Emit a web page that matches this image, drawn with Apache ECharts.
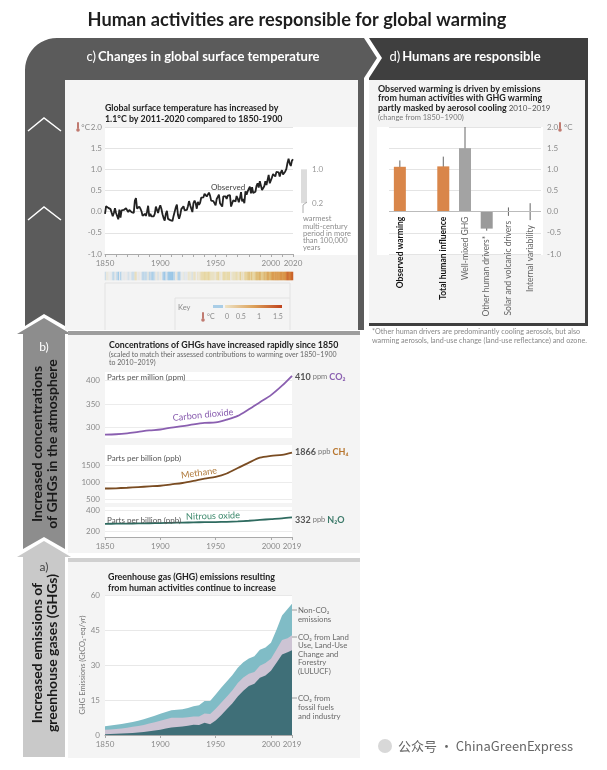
<!DOCTYPE html>
<html><head><meta charset="utf-8">
<script src="https://cdn.jsdelivr.net/npm/echarts@6/dist/echarts.min.js"></script>
<style>html,body{margin:0;padding:0;background:#fff}#c{width:607px;height:770px}</style>
</head><body><div id="c"></div>
<script>
// ---------- DATA ----------
const tempStart = 1850;
const tempValues = [
 -0.05,0.13,0.13,0.09,0.07,0.06,0.04,-0.11,-0.03,0.08,
 -0.03,-0.07,-0.18,0.05,-0.14,0.03,0.06,0.04,0.08,0.08,
 0.04,-0.01,0.04,0.06,-0.01,-0.05,-0.03,0.26,0.32,0.07,
 0.05,0.12,0.07,0.01,-0.10,-0.10,-0.05,-0.10,0.00,0.14,
 -0.11,-0.05,-0.11,-0.15,-0.11,-0.05,0.12,0.14,-0.03,0.08,
 0.15,0.07,-0.06,-0.15,-0.21,-0.05,0.02,-0.17,-0.19,-0.20,
 -0.19,-0.22,-0.10,-0.09,0.10,0.17,-0.08,-0.17,-0.08,0.06,
 0.06,0.13,0.03,0.05,0.04,0.13,0.25,0.15,0.15,-0.01,
 0.20,0.26,0.20,0.07,0.23,0.16,0.21,0.33,0.36,0.34,
 0.42,0.40,0.36,0.38,0.45,0.38,0.26,0.27,0.25,0.24,
 0.15,0.30,0.35,0.40,0.20,0.18,0.12,0.36,0.40,0.36,
 0.30,0.38,0.37,0.39,0.12,0.20,0.27,0.29,0.24,0.37,
 0.31,0.22,0.32,0.46,0.24,0.30,0.20,0.48,0.40,0.48,
 0.54,0.59,0.43,0.58,0.44,0.41,0.47,0.61,0.67,0.57,
 0.72,0.68,0.51,0.53,0.60,0.72,0.63,0.75,0.87,0.67,
 0.68,0.81,0.89,0.89,0.83,0.94,0.90,0.93,0.83,0.93,
 0.98,0.88,0.92,0.95,1.01,1.15,1.25,1.14,1.08,1.20,1.24];
const tempTickYears = [1850,1900,1950,2000,2020];
const tempMinorTicks = [1850,1860,1870,1880,1890,1900,1910,1920,1930,1940,1950,1960,1970,1980,1990,2000,2010,2020];
const warmestRange = [0.2, 1.0];

const dCats  = ['Observed warming','','Total human influence','Well-mixed GHG','Other human drivers*','Solar and volcanic drivers','Internal variability'];
const dValues = [1.06, null, 1.07, 1.50, -0.40, 0.00, 0.00];
const dLow    = [0.88, null, 0.80, 1.00, -0.45, -0.10, -0.20];
const dHigh   = [1.21, null, 1.30, 2.00, 0.00, 0.10, 0.20];

const ghgYears  = [1850,1860,1870,1880,1890,1900,1910,1920,1930,1940,1950,1960,1970,1980,1990,2000,2010,2019];
const co2Values = [285,286,288,291,294,296,300,303,307,310,311,317,325,339,354,369,389,410];
const ch4Values = [808,815,830,850,870,890,930,970,1030,1100,1150,1250,1410,1570,1715,1770,1800,1866];
const n2oValues = [272,274,275,276,278,280,282,284,286,288,289,291,295,301,309,316,323,332];
const ghgTickYears = [1850,1900,1950,2000,2019];

const emisYears = [1850,1855,1860,1865,1870,1875,1880,1885,1890,1895,1900,1905,1910,1915,1920,1925,1930,1935,1940,1945,1950,1955,1960,1965,1970,1975,1980,1985,1990,1995,2000,2005,2010,2015,2019];
const fossilValues = [0.3,0.4,0.5,0.6,0.7,0.9,1.1,1.3,1.6,1.9,2.3,2.8,3.2,3.4,3.6,4.0,4.4,4.3,5.2,4.6,6.2,8.5,11.0,13.5,16.5,19.0,21.0,22.0,24.5,25.5,27.5,31.0,34.5,35.5,36.3];
const lulucfValues = [1.9,2.0,2.1,2.2,2.4,2.6,2.8,3.0,3.3,3.6,3.8,4.0,4.2,4.0,3.8,3.6,3.5,3.6,4.0,4.4,5.0,5.3,5.4,5.6,5.8,5.6,5.2,5.0,5.2,5.4,5.2,5.6,6.2,6.0,6.4];
const nonco2Values = [1.6,1.7,1.8,1.9,2.0,2.1,2.2,2.4,2.6,2.8,3.0,3.1,3.2,3.4,3.6,4.0,4.4,4.8,5.4,5.6,6.2,6.4,6.5,6.5,6.5,6.6,6.6,6.7,6.8,6.6,6.8,8.5,10.5,12.5,13.5];

// cumulative layers for the stacked emissions (built from the arrays above)
const layerFossil = emisYears.map((y,i)=>[y, fossilValues[i]]);
const layerLulucf = emisYears.map((y,i)=>[y, +(fossilValues[i]+lulucfValues[i]).toFixed(2)]);
const layerTotal  = emisYears.map((y,i)=>[y, +(fossilValues[i]+lulucfValues[i]+nonco2Values[i]).toFixed(2)]);

// ---------- STYLE ----------
const F = "Lato, 'Noto Sans', 'DejaVu Sans', sans-serif";
const GRAY = '#8a8a8a';
const dColors = ['#d9864a', null, '#d9864a', '#a3a3a3', '#9a9a9a', '#999', '#999'];

function T(x, y, text, o) {
  o = o || {};
  const st = {text:text, fill:o.color||'#333', fontSize:o.size||8, fontWeight:o.bold?'bold':'normal',
      fontFamily:o.family||F, align:o.align||'left', verticalAlign:o.va||'middle'};
  if (o.rich) st.rich = o.rich;
  return {type:'text', x:x, y:y, rotation:o.rot||0, z:50, silent:true, style:st};
}
function R(x, y, w, h, fill, z) { return {type:'rect', z:(z==null?-10:z), silent:true, shape:{x:x,y:y,width:w,height:h}, style:{fill:fill}}; }
function PG(points, fill, z) { return {type:'polygon', z:(z==null?-12:z), silent:true, shape:{points:points}, style:{fill:fill}}; }
function L(x1,y1,x2,y2,c,w,z) { return {type:'line', z:(z==null?40:z), silent:true, shape:{x1:x1,y1:y1,x2:x2,y2:y2}, style:{stroke:c, lineWidth:w||1}}; }
function therm(x, y) {
  return {type:'group', x:x, y:y, z:50, silent:true, children:[
    {type:'rect', z:50, shape:{x:-1,y:-5,width:2,height:7,r:1}, style:{fill:'#c07a70'}},
    {type:'circle', z:50, shape:{cx:0,cy:3,r:1.8}, style:{fill:'#c07a70'}}]};
}
const cornerPts = [];
for (let k = 0; k <= 12; k++) { const a = Math.PI + k * Math.PI / 24; cornerPts.push([57 + 32 * Math.cos(a), 70 + 32 * Math.sin(a)]); }
const cFrame = [[25,326]].concat(cornerPts).concat([[364,38],[377,58],[364,78],[364,330],[65,330],[65,326],[44,314]]);

const LBL = '#6a6a6a';
const graphics = [
  PG(cFrame, '#5b5b5b'),
  PG([[369,38],[588,38],[588,326],[369,326],[369,78],[382,58]], '#3f3f3f'),
  PG([[44,318],[71,334],[65,334],[65,549],[44,537],[23,549],[23,334],[17,334]], '#8d8d8d'),
  PG([[44,541],[71,557],[65,557],[65,757],[23,757],[23,557],[17,557]], '#c9c9c9'),
  {type:'polyline', z:-11, silent:true, shape:{points:[[28,131],[44,118],[61,131]]}, style:{stroke:'#fff', lineWidth:1.5, fill:null}},
  {type:'polyline', z:-11, silent:true, shape:{points:[[28,220],[44,207],[61,220]]}, style:{stroke:'#fff', lineWidth:1.5, fill:null}},
  R(65, 80, 293, 250, '#f4f4f4'),
  R(369, 80, 216, 243, '#f4f4f4'),
  R(68, 331, 292, 4, '#9d9d9d'),
  R(68, 335, 292, 218, '#f4f4f4'),
  R(68, 558, 292, 4, '#d0d0d0'),
  R(68, 562, 292, 196, '#f4f4f4'),
  R(105, 127, 252, 128, '#ffffff', -9),
  R(377, 127, 166, 128, '#ffffff', -9),
  R(105, 372, 187, 66, '#ffffff', -9),
  R(105, 445, 187, 58, '#ffffff', -9),
  R(105, 507, 187, 30, '#ffffff', -9),
  R(105, 595, 187, 140, '#ffffff', -9),
  L(105, 283, 290, 283, '#e2e2e2', 1, -8), L(105, 283, 105, 330, '#e2e2e2', 1, -8), L(290, 283, 290, 330, '#e2e2e2', 1, -8),
  L(175, 298, 290, 298, '#e2e2e2', 1, -8), L(175, 298, 175, 330, '#e2e2e2', 1, -8),
  T(297, 20, 'Human activities are responsible for global warming', {size:18.2, bold:true, color:'#1e1e1e', align:'center'}),
  T(203, 57, '{n|c)} {b|Changes in global surface temperature}', {align:'center', rich:{
     n:{fill:'#fff', fontSize:13, fontFamily:F}, b:{fill:'#fff', fontSize:13, fontWeight:'bold', fontFamily:F}}}),
  T(465, 57, '{n|d)} {b|Humans are responsible}', {align:'center', rich:{
     n:{fill:'#fff', fontSize:13, fontFamily:F}, b:{fill:'#fff', fontSize:13, fontWeight:'bold', fontFamily:F}}}),
  T(44, 347, 'b)', {size:12, color:'#fff', align:'center'}),
  T(44, 567, 'a)', {size:12, color:'#444', align:'center'}),
  T(37, 444, 'Increased concentrations', {size:14, bold:true, color:'#1a1a1a', align:'center', rot:Math.PI/2}),
  T(52, 444, 'of GHGs in the atmosphere', {size:14, bold:true, color:'#1a1a1a', align:'center', rot:Math.PI/2}),
  T(37, 653, 'Increased emissions of', {size:14, bold:true, color:'#1a1a1a', align:'center', rot:Math.PI/2}),
  T(52, 653, 'greenhouse gases (GHGs)', {size:14, bold:true, color:'#1a1a1a', align:'center', rot:Math.PI/2}),
  T(105, 108.5, 'Global surface temperature has increased by', {size:8.8, bold:true, color:'#222'}),
  T(105, 119, '1.1°C by 2011-2020 compared to 1850-1900', {size:8.8, bold:true, color:'#222'}),
  therm(78, 127), T(90, 127, '°C', {size:8, color:GRAY, align:'right'}),
  T(211, 187, 'Observed', {size:8, color:'#444'}),
  T(303, 219, 'warmest', {size:7.5, color:'#8c8c8c'}),
  T(303, 226.2, 'multi-century', {size:7.5, color:'#8c8c8c'}),
  T(303, 233.4, 'period in more', {size:7.5, color:'#8c8c8c'}),
  T(303, 240.6, 'than 100,000', {size:7.5, color:'#8c8c8c'}),
  T(303, 247.8, 'years', {size:7.5, color:'#8c8c8c'}),
  {type:'polyline', z:40, silent:true, shape:{points:[[303,213],[303,205],[307,202]]}, style:{stroke:'#999', lineWidth:0.8, fill:null}},
  T(178, 308, 'Key', {size:7.5, color:GRAY}),
  therm(203, 317), T(207, 317, '°C', {size:7, color:GRAY}),
  R(213, 305, 10, 3, '#a9cde6', 45),
  {type:'rect', z:45, silent:true, shape:{x:225,y:305,width:57,height:3},
    style:{fill:{type:'linear', x:0, y:0, x2:1, y2:0, colorStops:[{offset:0,color:'#eee3c6'},{offset:0.5,color:'#dda25a'},{offset:1,color:'#c0431d'}]}}},
  T(227, 317, '0', {size:7, color:GRAY, align:'center'}),
  T(241, 317, '0.5', {size:7, color:GRAY, align:'center'}),
  T(259, 317, '1', {size:7, color:GRAY, align:'center'}),
  T(278, 317, '1.5', {size:7, color:GRAY, align:'center'}),
  T(378, 89, 'Observed warming is driven by emissions', {size:8.9, bold:true, color:'#222'}),
  T(378, 98.5, 'from human activities with GHG warming', {size:8.9, bold:true, color:'#222'}),
  T(378, 108, '{b|partly masked by aerosol cooling} {n|2010–2019}', {rich:{
     b:{fill:'#222', fontSize:8.9, fontWeight:'bold', fontFamily:F}, n:{fill:'#555', fontSize:8, fontFamily:F}}}),
  T(378, 117.5, '(change from 1850–1900)', {size:7.5, color:'#777'}),
  therm(560, 127), T(564, 127, '°C', {size:8, color:GRAY}),
  T(372, 332, '*Other human drivers are predominantly cooling aerosols, but also', {size:7.2, color:'#888'}),
  T(372, 341, 'warming aerosols, land-use change (land-use reflectance) and ozone.', {size:7.2, color:'#888'}),
  T(109, 345, 'Concentrations of GHGs have increased rapidly since 1850', {size:8.8, bold:true, color:'#222'}),
  T(109, 354.5, '(scaled to match their assessed contributions to warming over 1850–1900', {size:7, color:'#666'}),
  T(109, 363, 'to 2010–2019)', {size:7, color:'#666'}),
  T(107, 377, 'Parts per million (ppm)', {size:8, color:'#555'}),
  T(107, 458, 'Parts per billion (ppb)', {size:8, color:'#555'}),
  T(107, 520, 'Parts per billion (ppb)', {size:8, color:'#555'}),
  T(203, 415, 'Carbon dioxide', {size:9.2, color:'#8a5fb0', align:'center', rot:0.1}),
  T(199, 473, 'Methane', {size:9.2, color:'#b07a3c', align:'center', rot:0.14}),
  T(213, 516, 'Nitrous oxide', {size:9.2, color:'#3f8a6e', align:'center', rot:0.03}),
  T(295, 377, '{a|410} {u|ppm} {g|CO₂}', {rich:{a:{fill:'#555',fontSize:9,fontWeight:'bold',fontFamily:F},u:{fill:'#777',fontSize:7.5,fontFamily:F},g:{fill:'#8a5fb0',fontSize:9,fontWeight:'bold',fontFamily:F}}}),
  T(295, 452, '{a|1866} {u|ppb} {g|CH₄}', {rich:{a:{fill:'#555',fontSize:9,fontWeight:'bold',fontFamily:F},u:{fill:'#777',fontSize:7.5,fontFamily:F},g:{fill:'#b8762f',fontSize:9,fontWeight:'bold',fontFamily:F}}}),
  T(295, 520, '{a|332} {u|ppb} {g|N₂O}', {rich:{a:{fill:'#555',fontSize:9,fontWeight:'bold',fontFamily:F},u:{fill:'#777',fontSize:7.5,fontFamily:F},g:{fill:'#3d7a6a',fontSize:9,fontWeight:'bold',fontFamily:F}}}),
  T(108, 577, 'Greenhouse gas (GHG) emissions resulting', {size:8.9, bold:true, color:'#222'}),
  T(108, 588, 'from human activities continue to increase', {size:8.9, bold:true, color:'#222'}),
  L(292, 610, 297, 610, '#888', 0.8), L(292, 637, 297, 637, '#888', 0.8), L(292, 698, 297, 698, '#888', 0.8),
  T(298, 610, 'Non-CO₂', {size:7.8, color:LBL}),
  T(298, 619, 'emissions', {size:7.8, color:LBL}),
  T(298, 637, 'CO₂ from Land', {size:7.8, color:LBL}),
  T(298, 645.5, 'Use, Land-Use', {size:7.8, color:LBL}),
  T(298, 654, 'Change and', {size:7.8, color:LBL}),
  T(298, 662.5, 'Forestry', {size:7.8, color:LBL}),
  T(298, 671, '(LULUCF)', {size:7.8, color:LBL}),
  T(298, 698, 'CO₂ from', {size:7.8, color:LBL}),
  T(298, 707, 'fossil fuels', {size:7.8, color:LBL}),
  T(298, 716, 'and industry', {size:7.8, color:LBL}),
  {type:'circle', z:50, silent:true, shape:{cx:385,cy:746,r:7}, style:{fill:'#d8d8d8'}},
  T(398, 746, '公众号 · ChinaGreenExpress', {size:13, color:'#666', family:"'Noto Sans CJK SC', 'Noto Sans', sans-serif"})
];

const axLbl = {color:GRAY, fontSize:8, fontFamily:F};
const hidden = {show:false};
const yearFmt = v => String(v);

const option = {
  animation:false,
  backgroundColor:'#fff',
  textStyle:{fontFamily:F},
  grid:[
    {left:105, top:127, width:188, height:127},
    {left:300, top:127, width:8, height:127},
    {left:105, top:272, width:188, height:8},
    {left:389, top:127, width:152, height:127},
    {left:105, top:372, width:187, height:66},
    {left:105, top:445, width:187, height:58},
    {left:105, top:507, width:187, height:30},
    {left:105, top:595, width:187, height:140}
  ],
  xAxis:[
    {gridIndex:0, type:'value', min:1850, max:2020, axisLine:{onZero:false, lineStyle:{color:'#aaa'}},
      axisTick:{show:true, length:3, customValues:tempMinorTicks, lineStyle:{color:'#aaa'}},
      axisLabel:Object.assign({customValues:tempTickYears, margin:5, formatter:yearFmt}, axLbl), splitLine:hidden},
    {gridIndex:1, type:'category', data:['w'], show:false},
    {gridIndex:2, type:'category', data:tempValues.map((v,i)=>String(tempStart+i)), show:false},
    {gridIndex:3, type:'category', data:dCats, show:false},
    {gridIndex:4, type:'value', min:1850, max:2019, show:false},
    {gridIndex:5, type:'value', min:1850, max:2019, show:false},
    {gridIndex:6, type:'value', min:1850, max:2019, axisLine:{onZero:false, lineStyle:{color:'#aaa'}},
      axisTick:{show:true, length:3, customValues:ghgTickYears, lineStyle:{color:'#aaa'}},
      axisLabel:Object.assign({customValues:ghgTickYears, margin:5, formatter:yearFmt}, axLbl), splitLine:hidden},
    {gridIndex:7, type:'value', min:1850, max:2019, axisLine:{onZero:false, lineStyle:{color:'#aaa'}},
      axisTick:{show:true, length:3, customValues:ghgTickYears, lineStyle:{color:'#aaa'}},
      axisLabel:Object.assign({customValues:ghgTickYears, margin:5, formatter:yearFmt}, axLbl), splitLine:hidden}
  ],
  yAxis:[
    {gridIndex:0, type:'value', min:-1, max:2, interval:0.5, axisLine:hidden, axisTick:hidden,
      axisLabel:Object.assign({formatter:v=>v.toFixed(1), margin:3}, axLbl), splitLine:{lineStyle:{color:'#e4e4e4'}}},
    {gridIndex:1, type:'value', min:-1, max:2, show:false},
    {gridIndex:2, type:'category', data:['s'], show:false},
    {gridIndex:3, type:'value', position:'right', min:-1, max:2, interval:0.5, axisLine:hidden, axisTick:hidden,
      axisLabel:Object.assign({formatter:v=>v.toFixed(1), margin:6}, axLbl), splitLine:{lineStyle:{color:'#e4e4e4'}}},
    {gridIndex:4, type:'value', min:278, max:418, axisLine:hidden, axisTick:{show:false, customValues:[300,350,400]},
      axisLabel:Object.assign({customValues:[300,350,400], margin:5}, axLbl), splitLine:{lineStyle:{color:'#ececec'}}},
    {gridIndex:5, type:'value', min:382, max:2088, axisLine:hidden, axisTick:{show:false, customValues:[500,1000,1500]},
      axisLabel:Object.assign({customValues:[500,1000,1500], margin:5, formatter:yearFmt}, axLbl), splitLine:{lineStyle:{color:'#ececec'}}},
    {gridIndex:6, type:'value', min:151, max:428, axisLine:hidden, axisTick:{show:false, customValues:[200,400]},
      axisLabel:Object.assign({customValues:[200,400], margin:5}, axLbl), splitLine:{lineStyle:{color:'#ececec'}}},
    {gridIndex:7, type:'value', min:0, max:60, interval:15, axisLine:hidden, axisTick:hidden,
      name:'GHG Emissions (GtCO₂-eq/yr)', nameLocation:'middle', nameRotate:90, nameGap:12,
      nameTextStyle:{color:'#777', fontSize:7.5, fontFamily:F},
      axisLabel:Object.assign({margin:5}, axLbl), splitLine:{lineStyle:{color:'#e8e8e8'}}}
  ],
  visualMap:[{type:'continuous', show:false, seriesIndex:2, dimension:2, min:-0.25, max:1.35,
    inRange:{color:['#8ec1e6','#ebebeb','#e8d9a8','#dcb46a','#d88a3e','#c24d1c']}}],
  series:[
    {type:'line', xAxisIndex:0, yAxisIndex:0, data:tempValues.map((v,i)=>[tempStart+i, v]),
      symbol:'none', lineStyle:{color:'#222', width:1.8}, z:5},
    {type:'custom', xAxisIndex:1, yAxisIndex:1, data:[[0, warmestRange[0], warmestRange[1]]],
      renderItem:function(p, api){
        const top = api.coord([0, api.value(2)]), bot = api.coord([0, api.value(1)]);
        return {type:'group', children:[
          {type:'rect', shape:{x:top[0]-3, y:top[1], width:6, height:bot[1]-top[1]}, style:{fill:'#dcdcdc'}},
          {type:'text', x:top[0]+8, y:top[1], style:{text:api.value(2).toFixed(1), fill:'#999', fontSize:8, fontFamily:F, verticalAlign:'middle'}},
          {type:'text', x:bot[0]+8, y:bot[1], style:{text:api.value(1).toFixed(1), fill:'#999', fontSize:8, fontFamily:F, verticalAlign:'middle'}}
        ]};
      }},
    {type:'heatmap', xAxisIndex:2, yAxisIndex:2, data:tempValues.map((v,i)=>[i, 0, v]), itemStyle:{borderWidth:0}},
    {type:'bar', xAxisIndex:3, yAxisIndex:3, barWidth:12,
      data:dValues.map((v,i)=> v==null ? '-' : {value:v, itemStyle:{color:dColors[i]}}),
      markLine:{silent:true, symbol:'none', label:{show:false}, lineStyle:{color:'#bbb', width:1, type:'solid'}, data:[{yAxis:0}]}},
    {type:'custom', xAxisIndex:3, yAxisIndex:3,
      data:dCats.map((c,i)=>[i, dLow[i], dHigh[i], dValues[i]]).filter(d=>d[1]!=null),
      renderItem:function(p, api){
        const i = api.value(0), lo = api.value(1), hi = api.value(2), v = api.value(3);
        const p1 = api.coord([i, hi]), p2 = api.coord([i, lo]);
        const base = api.coord([i, Math.min(0, lo, v)]);
        const strong = i <= 2;
        return {type:'group', children:[
          {type:'line', shape:{x1:p1[0], y1:p1[1], x2:p2[0], y2:p2[1]}, style:{stroke:'#666', lineWidth:1}},
          {type:'text', x:base[0], y:base[1]+5, rotation:Math.PI/2,
            style:{text:dCats[i], align:'right', verticalAlign:'middle', fontFamily:F, fontSize:8.5,
              fontWeight:strong?'bold':'normal', fill:strong?'#151515':'#666'}}
        ]};
      }},
    {type:'line', xAxisIndex:4, yAxisIndex:4, data:ghgYears.map((y,i)=>[y, co2Values[i]]), smooth:0.3,
      symbol:'none', lineStyle:{color:'#8a5fb0', width:1.8}},
    {type:'line', xAxisIndex:5, yAxisIndex:5, data:ghgYears.map((y,i)=>[y, ch4Values[i]]), smooth:0.3,
      symbol:'none', lineStyle:{color:'#7a4c22', width:1.8}},
    {type:'line', xAxisIndex:6, yAxisIndex:6, data:ghgYears.map((y,i)=>[y, n2oValues[i]]), smooth:0.3,
      symbol:'none', lineStyle:{color:'#2f6b60', width:1.8}},
    {type:'line', xAxisIndex:7, yAxisIndex:7, data:layerTotal, z:3,
      symbol:'none', lineStyle:{width:0}, areaStyle:{color:'#80bcc6', opacity:1}},
    {type:'line', xAxisIndex:7, yAxisIndex:7, data:layerLulucf, z:4,
      symbol:'none', lineStyle:{width:0}, areaStyle:{color:'#cdc4d4', opacity:1}},
    {type:'line', xAxisIndex:7, yAxisIndex:7, data:layerFossil, z:5,
      symbol:'none', lineStyle:{width:0}, areaStyle:{color:'#3f6f78', opacity:1}}
  ],
  graphic:{elements:graphics}
};
const chart = echarts.init(document.getElementById('c'), null, {renderer:'canvas'});
chart.setOption(option);
</script>
</body></html>
